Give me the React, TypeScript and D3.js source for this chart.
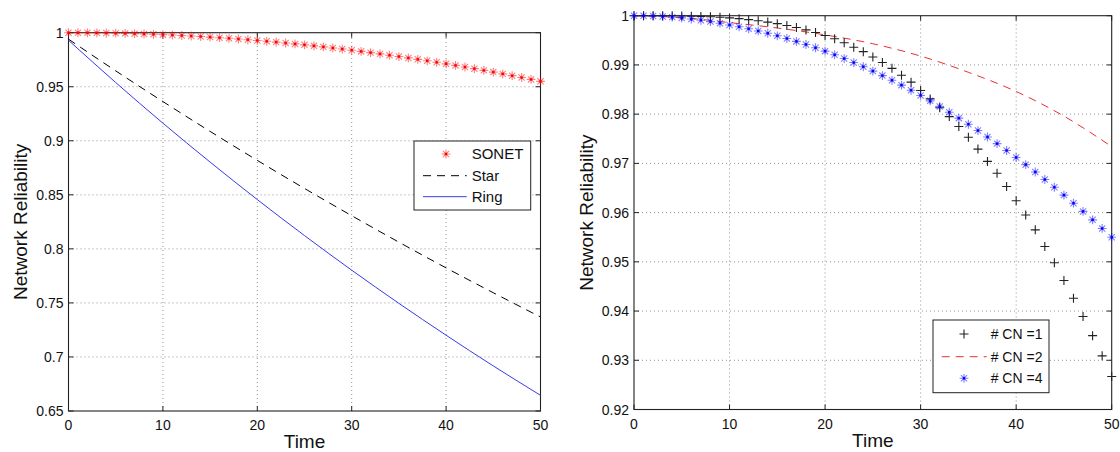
import React from "react";
import * as d3 from "d3";

const width = 1120;
const height = 452;
const font = "'Liberation Sans', Arial, Helvetica, sans-serif";

// time axis (integer steps for markers, every 5 for the smooth lines)
const timeSteps = d3.range(0, 51);
const lineTimes = [0, 5, 10, 15, 20, 25, 30, 35, 40, 45, 50];

// left chart
const sonet = [
  1.0, 0.99998, 0.99993, 0.99984, 0.99971, 0.99955, 0.99935, 0.99912, 0.99885, 0.99854,
  0.9982, 0.99782, 0.99741, 0.99696, 0.99647, 0.99595, 0.99539, 0.9948, 0.99417, 0.9935,
  0.9928, 0.99206, 0.99129, 0.99048, 0.98963, 0.98875, 0.98783, 0.98688, 0.98589, 0.98486,
  0.9838, 0.9827, 0.98157, 0.9804, 0.97919, 0.97795, 0.97667, 0.97536, 0.97401, 0.97262,
  0.9712, 0.96974, 0.96825, 0.96672, 0.96515, 0.96355, 0.96191, 0.96024, 0.95853, 0.95678,
  0.955,
];
const star = [0.994, 0.9647, 0.9363, 0.9087, 0.8819, 0.8559, 0.8307, 0.8062, 0.7824, 0.7594, 0.737];
const ring = [0.993, 0.9539, 0.9163, 0.8803, 0.8456, 0.8123, 0.7803, 0.7496, 0.7201, 0.6917, 0.6645];

// right chart
const cn1 = [
  1.0, 1.0, 1.0, 0.99999, 0.99998, 0.99995, 0.99991, 0.99986, 0.99978, 0.99968,
  0.99955, 0.9994, 0.9992, 0.99898, 0.9987, 0.99839, 0.99802, 0.9976, 0.99712, 0.99659,
  0.99599, 0.99531, 0.9945, 0.9936, 0.9927, 0.9916, 0.9905, 0.9893, 0.9879, 0.9865,
  0.9848, 0.9831, 0.9813, 0.9795, 0.9775, 0.9753, 0.9729, 0.9704, 0.968, 0.9653,
  0.9624, 0.9595, 0.9565, 0.9531, 0.9498, 0.9462, 0.9426, 0.9389, 0.935, 0.9309,
  0.9267,
];
const cn2 = [1.0, 0.9996, 0.9986, 0.9975, 0.9961, 0.9943, 0.9918, 0.9885, 0.9846, 0.9796, 0.9734];
const cn4 = [
  1.0, 0.99998, 0.99993, 0.99984, 0.99971, 0.99955, 0.99933, 0.99908, 0.9988, 0.99848,
  0.99812, 0.99775, 0.99735, 0.9969, 0.99643, 0.99592, 0.99537, 0.99478, 0.99415, 0.99349,
  0.9928, 0.99206, 0.99129, 0.99048, 0.98963, 0.98875, 0.98783, 0.98688, 0.98589, 0.98486,
  0.9838, 0.9827, 0.98157, 0.9804, 0.97919, 0.97795, 0.97667, 0.97536, 0.97401, 0.97262,
  0.9712, 0.96974, 0.96825, 0.96672, 0.96515, 0.96355, 0.96191, 0.96024, 0.95853, 0.95678,
  0.9550,
];

const xTicks = [0, 10, 20, 30, 40, 50];
const leftYTicks = [0.65, 0.7, 0.75, 0.8, 0.85, 0.9, 0.95, 1];
const leftYLabels = ["0.65", "0.7", "0.75", "0.8", "0.85", "0.9", "0.95", "1"];
const rightYTicks = [0.92, 0.93, 0.94, 0.95, 0.96, 0.97, 0.98, 0.99, 1];
const rightYLabels = ["0.92", "0.93", "0.94", "0.95", "0.96", "0.97", "0.98", "0.99", "1"];
const leftLegend = ["SONET", "Star", "Ring"];
const rightLegend = ["# CN =1", "# CN =2", "# CN =4"];

const axisColor = "#222";
const red = "#ff0000";
const blue = "#0000ff";

const Asterisk = ({ cx, cy, color }: { cx: number; cy: number; color: string }) => (
  <g transform={`translate(${cx},${cy})`}>
    <path
      d="M0,-4.4V4.4M-4.4,0H4.4M-3.1,-3.1L3.1,3.1M-3.1,3.1L3.1,-3.1"
      stroke={color}
      strokeOpacity={0.5}
      strokeWidth={1.1}
      fill="none"
    />
    <rect x={-1.2} y={-1.2} width={2.4} height={2.4} fill={color} />
  </g>
);

const Plus = ({ cx, cy }: { cx: number; cy: number }) => (
  <path
    transform={`translate(${cx},${cy})`}
    d="M-4.5,0H4.5M0,-4.5V4.5"
    stroke="#222"
    strokeWidth={1.1}
    fill="none"
  />
);

type FrameProps = {
  x: d3.ScaleLinear<number, number>;
  y: d3.ScaleLinear<number, number>;
  yTicks: number[];
  yLabels: string[];
  labelX: number;
};

// MATLAB style axes box: dotted grid, inward ticks on all four sides
const Frame = ({ x, y, yTicks, yLabels, labelX }: FrameProps) => {
  const [x0, x1] = x.range();
  const [y0, y1] = y.range(); // y0 bottom, y1 top
  const tl = 5;
  return (
    <g>
      {xTicks.slice(1, -1).map(t => (
        <line key={"gx" + t} x1={x(t)} x2={x(t)} y1={y0} y2={y1} stroke="#888" strokeWidth={0.9} strokeDasharray="1,3" />
      ))}
      {yTicks.slice(1, -1).map(t => (
        <line key={"gy" + t} x1={x0} x2={x1} y1={y(t)} y2={y(t)} stroke="#888" strokeWidth={0.9} strokeDasharray="1,3" />
      ))}
      {xTicks.map(t => (
        <g key={"tx" + t}>
          <line x1={x(t)} x2={x(t)} y1={y0} y2={y0 - tl} stroke={axisColor} />
          <line x1={x(t)} x2={x(t)} y1={y1} y2={y1 + tl} stroke={axisColor} />
          <text x={x(t)} y={y0 + 19} textAnchor="middle" fontSize={14} fontFamily={font} fill="#111">
            {t}
          </text>
        </g>
      ))}
      {yTicks.map((t, i) => (
        <g key={"ty" + t}>
          <line x1={x0} x2={x0 + tl} y1={y(t)} y2={y(t)} stroke={axisColor} />
          <line x1={x1} x2={x1 - tl} y1={y(t)} y2={y(t)} stroke={axisColor} />
          <text x={x0 - 5} y={y(t)} dy="0.36em" textAnchor="end" fontSize={14} fontFamily={font} fill="#111">
            {yLabels[i]}
          </text>
        </g>
      ))}
      <rect x={x0} y={y1} width={x1 - x0} height={y0 - y1} fill="none" stroke={axisColor} strokeWidth={1.1} />
      <text x={(x0 + x1) / 2} y={y0 + 37} textAnchor="middle" fontSize={19} fontFamily={font} fill="#111">
        Time
      </text>
      <text
        transform={`translate(${labelX},${(y0 + y1) / 2}) rotate(-90)`}
        textAnchor="middle"
        fontSize={19}
        fontFamily={font}
        fill="#111"
      >
        Network Reliability
      </text>
    </g>
  );
};

export default function App() {
  const xL = d3.scaleLinear().domain([0, 50]).range([68.5, 540.5]);
  const yL = d3.scaleLinear().domain([0.65, 1]).range([411, 32.7]);
  const xR = d3.scaleLinear().domain([0, 50]).range([634, 1111.7]);
  const yR = d3.scaleLinear().domain([0.92, 1]).range([409.5, 15.7]);

  const lineL = d3
    .line<number>()
    .x((_, i) => xL(lineTimes[i]))
    .y(d => yL(d))
    .curve(d3.curveMonotoneX);
  const lineR = d3
    .line<number>()
    .x((_, i) => xR(lineTimes[i]))
    .y(d => yR(d))
    .curve(d3.curveMonotoneX);

  return (
    <svg width={width} height={height} style={{ position: "absolute", left: 0, top: 0, background: "#fff" }}>
      {/* left chart */}
      <Frame x={xL} y={yL} yTicks={leftYTicks} yLabels={leftYLabels} labelX={27} />
      <path d={lineL(star) || ""} fill="none" stroke="#000" strokeWidth={1} strokeDasharray="8,6" />
      <path d={lineL(ring) || ""} fill="none" stroke="#3a3ae8" strokeWidth={1} />
      {sonet.map((v, i) => (
        <Asterisk key={"s" + i} cx={xL(timeSteps[i])} cy={yL(v)} color={red} />
      ))}
      <g>
        <rect x={414} y={141} width={116.7} height={69} fill="#fff" stroke={axisColor} strokeWidth={1} />
        <Asterisk cx={446} cy={154} color={red} />
        <line x1={423} x2={466.7} y1={175.7} y2={175.7} stroke="#000" strokeDasharray="8,6" />
        <line x1={423} x2={466.7} y1={196.7} y2={196.7} stroke="#3a3ae8" />
        {leftLegend.map((s, i) => (
          <text key={s} x={471.7} y={[154, 175.7, 196.7][i]} dy="0.36em" fontSize={15} fontFamily={font} fill="#111">
            {s}
          </text>
        ))}
      </g>

      {/* right chart */}
      <Frame x={xR} y={yR} yTicks={rightYTicks} yLabels={rightYLabels} labelX={593} />
      <path d={lineR(cn2) || ""} fill="none" stroke="#e83030" strokeWidth={1} strokeDasharray="8,6" />
      {cn1.map((v, i) => (
        <Plus key={"p" + i} cx={xR(timeSteps[i])} cy={yR(v)} />
      ))}
      {cn4.map((v, i) => (
        <Asterisk key={"b" + i} cx={xR(timeSteps[i])} cy={yR(v)} color={blue} />
      ))}
      <g>
        <rect x={933} y={320} width={116} height={72.7} fill="#fff" stroke={axisColor} strokeWidth={1} />
        <Plus cx={964} cy={334} />
        <line x1={941.7} x2={986.7} y1={356.7} y2={356.7} stroke="#e83030" strokeDasharray="8,6" />
        <Asterisk cx={964} cy={378.3} color={blue} />
        {rightLegend.map((s, i) => (
          <text key={s} x={990.7} y={[334, 356.7, 378.3][i]} dy="0.36em" fontSize={14} fontFamily={font} fill="#111">
            {s}
          </text>
        ))}
      </g>
    </svg>
  );
}
